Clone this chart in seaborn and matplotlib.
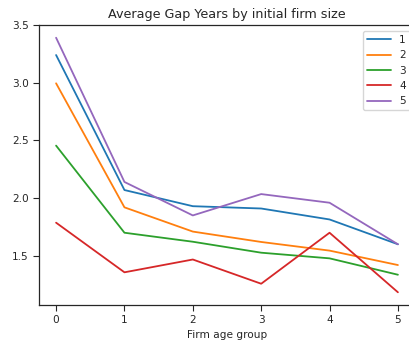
import numpy as np
import pandas as pd
import matplotlib
matplotlib.use("Agg")
import matplotlib.pyplot as plt
import seaborn as sns

# firm age groups and average gap years per initial firm size
age_groups = [0, 1, 2, 3, 4, 5]
size_labels = ["1", "2", "3", "4", "5"]
gap_size1 = [3.24, 2.07, 1.93, 1.91, 1.815, 1.60]
gap_size2 = [2.995, 1.92, 1.71, 1.62, 1.545, 1.42]
gap_size3 = [2.455, 1.70, 1.622, 1.527, 1.478, 1.336]
gap_size4 = [1.787, 1.357, 1.468, 1.258, 1.70, 1.184]
gap_size5 = [3.39, 2.14, 1.85, 2.035, 1.96, 1.60]

series = [gap_size1, gap_size2, gap_size3, gap_size4, gap_size5]
df = pd.DataFrame({
    "age": np.tile(age_groups, len(size_labels)),
    "gap": np.concatenate(series),
    "size": np.repeat(size_labels, len(age_groups)),
})

sns.set_style("ticks")
plt.rcParams["font.family"] = ["DejaVu Sans"]

fig = plt.figure(figsize=(4.10, 3.43), dpi=100)
ax = fig.add_axes([39 / 410, 38 / 343, 376 / 410, 280 / 343])

sns.lineplot(data=df, x="age", y="gap", hue="size", hue_order=size_labels,
             palette="tab10", linewidth=1.3, ax=ax)

ax.set_title("Average Gap Years by initial firm size", fontsize=9.2, pad=5)
ax.set_xlabel("Firm age group", fontsize=7.6, labelpad=3)
ax.set_ylabel("")
ax.set_xticks(age_groups)
ax.set_yticks([1.5, 2.0, 2.5, 3.0, 3.5])
ax.tick_params(labelsize=7.6, length=4, width=0.8)
for s in ax.spines.values():
    s.set_linewidth(0.9)
ax.spines["right"].set_visible(False)

sns.move_legend(ax, "upper right", title=None, fontsize=7.6,
                bbox_to_anchor=(0.987, 0.979), borderaxespad=0,
                handlelength=2.2)

fig.savefig("out.png", dpi=100)
